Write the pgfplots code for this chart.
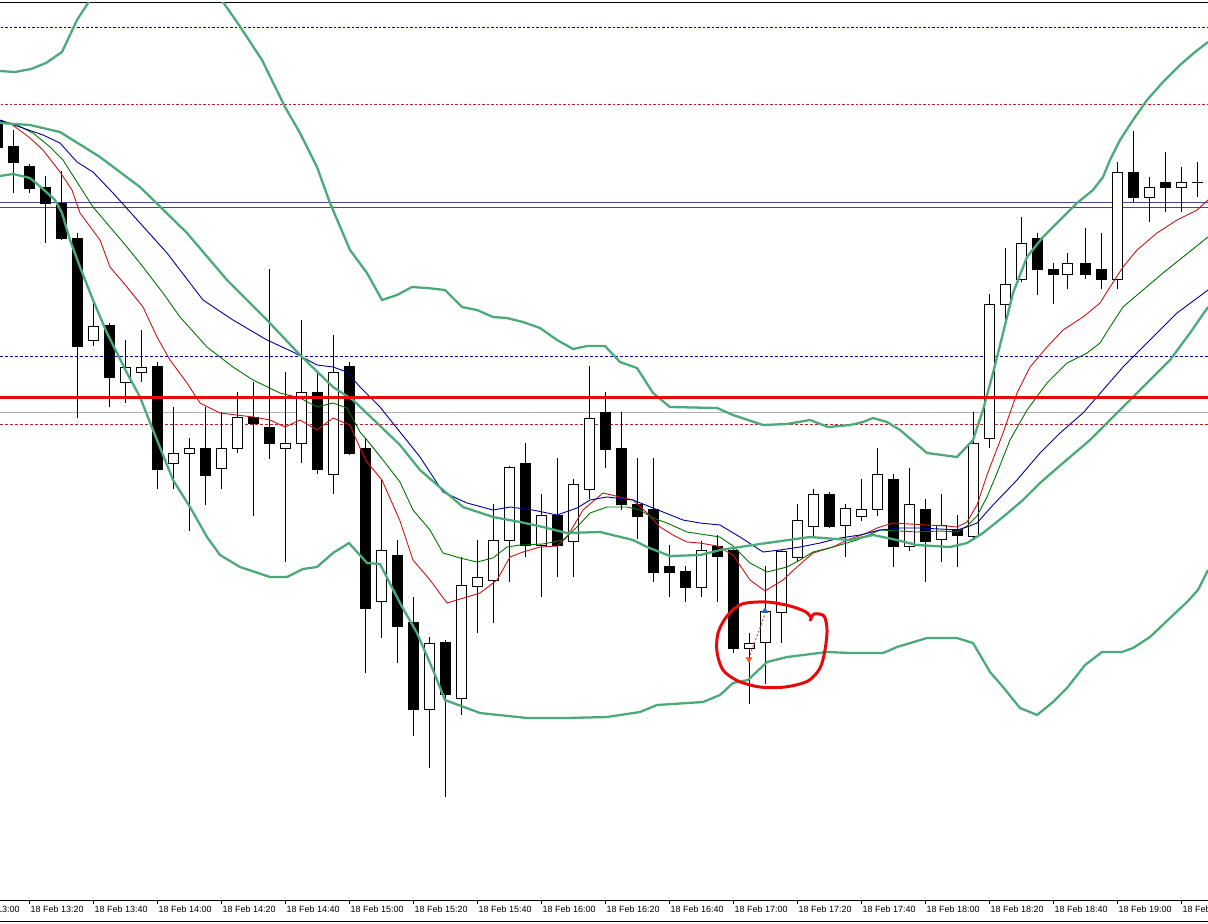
\documentclass[border=0pt]{standalone}
\usepackage{pgfplots}
\pgfplotsset{compat=1.18}
\usepackage{pgfplotstable}
\usepackage{fontspec}
\setmainfont{Liberation Sans}
\definecolor{bbg}{RGB}{76,170,122}
\definecolor{mared}{RGB}{200,20,20}
\definecolor{magreen}{RGB}{0,115,0}
\definecolor{mablue}{RGB}{0,0,150}
\definecolor{slate}{RGB}{70,70,130}
\definecolor{dblue}{RGB}{0,0,160}
\definecolor{dred}{RGB}{190,30,30}
\definecolor{hred}{RGB}{232,10,10}

% black candles: x, high, low, body top, body bottom (pixel rows)
\pgfplotstableread{
x h l t b
-2.7 118 150 120 147
13.3 130 193 146 162
29.3 164 193 166 188
45.3 176 243 187 203
61.3 171 240 203 238
77.3 233 418 238 346
109.3 323 407 325 377
157.3 362 489 366 469
205.3 407 505 448 475
253.3 382 516 417 423
269.3 269 459 427 443
317.3 373 474 392 469
349.3 362 455 366 453
365.3 438 673 448 608
397.3 540 663 556 627
413.3 597 736 622 709
445.3 640 797 643 695
525.3 443 557 463 545
557.3 458 577 515 545
605.3 392 468 412 449
621.3 412 510 448 504
637.3 458 539 504 516
653.3 458 582 509 572
669.3 545 597 566 572
685.3 566 602 571 587
717.3 535 602 546 556
733.3 548 653 550 648
829.3 492 528 494 526
893.3 474 567 479 546
925.3 499 582 509 541
957.3 515 567 530 536
1037.3 233 295 238 269
1053.3 263 304 269 274
1085.3 228 279 263 274
1101.3 233 289 269 279
1133.3 131 202 172 197
1165.3 152 212 182 187
1197.3 162 197 182 182
}\blackc

% white candles
\pgfplotstableread{
x h l t b
93.3 302 346 326 340
125.3 340 403 367 382
141.3 330 382 367 372
173.3 407 489 453 463
189.3 438 531 448 453
221.3 412 489 448 468
237.3 392 453 417 448
285.3 372 562 443 448
301.3 320 463 392 443
333.3 335 494 372 474
381.3 479 638 551 602
429.3 637 768 643 709
461.3 557 715 586 699
477.3 540 633 577 586
493.3 504 623 541 581
509.3 466 582 468 541
541.3 494 597 515 545
573.3 479 577 484 541
589.3 366 499 418 489
701.3 541 597 550 587
749.3 633 704 643 648
765.3 566 684 612 643
781.3 550 643 551 612
797.3 504 562 520 557
813.3 489 537 494 526
845.3 504 557 509 526
861.3 479 521 509 516
877.3 448 516 474 509
909.3 468 551 504 546
941.3 494 562 526 540
973.3 412 538 443 536
989.3 294 448 304 438
1005.3 248 326 284 304
1021.3 217 282 243 279
1067.3 253 289 263 274
1117.3 162 289 172 279
1149.3 177 222 187 197
1181.3 167 212 182 187
}\whitec

\begin{document}
\begin{tikzpicture}
\useasboundingbox (0,0) rectangle (1208pt,924pt);
\begin{axis}[
  at={(-40pt,24pt)}, anchor=south west,
  scale only axis, width=1288pt, height=898pt,
  xmin=-40, xmax=1248, ymin=2, ymax=900, y dir=reverse,
  separate axis lines,
  x axis line style={black, line width=1pt},
  y axis line style={draw=none},
  ytick=\empty,
  xtick pos=bottom,
  xtick align=outside,
  major tick length=4pt,
  xtick style={black, line width=0.8pt},
  xtick={-34.7,29.3,93.3,157.3,221.3,285.3,349.3,413.3,477.3,541.3,605.3,669.3,733.3,797.3,861.3,925.3,989.3,1053.3,1117.3,1181.3},
  xticklabels={18 Feb 13:00,18 Feb 13:20,18 Feb 13:40,18 Feb 14:00,18 Feb 14:20,18 Feb 14:40,18 Feb 15:00,18 Feb 15:20,18 Feb 15:40,18 Feb 16:00,18 Feb 16:20,18 Feb 16:40,18 Feb 17:00,18 Feb 17:20,18 Feb 17:40,18 Feb 18:00,18 Feb 18:20,18 Feb 18:40,18 Feb 19:00,18 Feb 19:20},
  xticklabel style={font=\fontsize{9}{10}\selectfont, anchor=north west, inner sep=0pt, xshift=1pt, yshift=-1.5pt},
  clip=true,
]
% horizontal levels
\addplot[dblue, line width=0.9pt, dash pattern=on 2.5pt off 2pt] coordinates {(-40,27) (1248,27)};
\addplot[dred, line width=0.9pt, dash pattern=on 2.5pt off 2pt] coordinates {(-40,104) (1248,104)};
\addplot[slate, line width=0.9pt] coordinates {(-40,202.5) (1248,202.5)};
\addplot[slate, line width=0.9pt] coordinates {(-40,207.5) (1248,207.5)};
\addplot[dblue, line width=0.9pt, dash pattern=on 3pt off 2pt] coordinates {(-40,356) (1248,356)};
\addplot[gray!60, line width=1pt] coordinates {(-40,412) (1248,412)};
\addplot[dred, line width=0.9pt, dash pattern=on 3pt off 2pt] coordinates {(-40,424.5) (1248,424.5)};

% wicks
\addplot[draw=none, mark=none, error bars/.cd, y dir=both, y explicit, error mark=none,
  error bar style={draw=black, line width=1pt}]
  table[x=x, y expr={(\thisrow{h}+\thisrow{l})/2}, y error expr={(\thisrow{l}-\thisrow{h})/2}] {\blackc};
\addplot[draw=none, mark=none, error bars/.cd, y dir=both, y explicit, error mark=none,
  error bar style={draw=black, line width=1pt}]
  table[x=x, y expr={(\thisrow{h}+\thisrow{l})/2}, y error expr={(\thisrow{l}-\thisrow{h})/2}] {\whitec};
% bodies
\addplot[draw=none, mark=none, error bars/.cd, y dir=both, y explicit, error mark=none,
  error bar style={draw=black, line width=11pt}]
  table[x=x, y expr={(\thisrow{t}+\thisrow{b})/2}, y error expr={(\thisrow{b}-\thisrow{t})/2+0.5}] {\blackc};
\addplot[draw=none, mark=none, error bars/.cd, y dir=both, y explicit, error mark=none,
  error bar style={draw=black, line width=11pt}]
  table[x=x, y expr={(\thisrow{t}+\thisrow{b})/2}, y error expr={(\thisrow{b}-\thisrow{t})/2+0.5}] {\whitec};
\addplot[draw=none, mark=none, error bars/.cd, y dir=both, y explicit, error mark=none,
  error bar style={draw=white, line width=9pt}]
  table[x=x, y expr={(\thisrow{t}+\thisrow{b})/2}, y error expr={(\thisrow{b}-\thisrow{t})/2-0.5}] {\whitec};

% moving averages
\addplot[mared, line width=0.9pt] coordinates {(0,121) (10,123) (30,138) (43,150) (60,172) (72,190) (80,213) (100,240) (110,267) (127,287) (143,307) (157,337) (170,360) (187,383) (200,403) (220,413) (253,417) (270,420) (285,427) (300,420) (317,430) (333,418) (350,425) (360,448) (367,462) (382,480) (400,521) (413,560) (430,580) (447,603) (467,597) (480,593) (497,580) (510,557) (523,552) (540,547) (557,546) (567,537) (583,510) (603,493) (620,497) (633,500) (647,513) (660,527) (673,535) (687,542) (700,543) (717,546) (733,555) (750,580) (765,591) (783,580) (797,567) (813,553) (833,547) (847,540) (867,533) (877,528) (893,523) (910,524) (927,525) (947,526) (957,527) (967,522) (977,505) (987,475) (1003,433) (1017,393) (1030,367) (1047,347) (1063,330) (1083,317) (1100,303) (1110,287) (1123,267) (1137,250) (1157,233) (1177,220) (1197,210) (1208,200)};
\addplot[magreen, line width=0.9pt] coordinates {(0,121) (17,125) (33,133) (50,147) (63,160) (77,182) (93,207) (110,227) (127,247) (143,267) (163,293) (180,317) (207,347) (233,367) (253,380) (280,393) (300,398) (317,407) (333,403) (347,408) (360,432) (367,440) (383,460) (400,482) (413,510) (430,530) (443,553) (460,558) (477,562) (493,558) (507,547) (520,545) (543,544) (563,540) (577,527) (590,513) (607,507) (627,507) (640,510) (653,518) (667,523) (687,532) (707,535) (720,537) (733,546) (750,563) (767,572) (787,567) (800,560) (813,552) (833,547) (857,540) (880,530) (900,531) (917,532) (940,531) (957,532) (967,526) (977,516) (987,497) (997,473) (1010,440) (1027,410) (1047,383) (1067,363) (1087,353) (1100,343) (1110,327) (1123,307) (1143,290) (1163,273) (1183,257) (1208,237)};
\addplot[mablue, line width=0.9pt] coordinates {(0,120) (20,127) (43,135) (60,143) (77,162) (93,172) (113,193) (140,223) (167,253) (203,300) (233,320) (267,340) (293,352) (317,365) (333,367) (347,372) (360,387) (380,407) (400,432) (420,457) (443,492) (467,503) (493,510) (510,507) (533,510) (557,515) (577,508) (590,500) (607,497) (633,500) (653,508) (683,520) (700,523) (720,525) (740,537) (763,552) (780,550) (800,547) (820,543) (840,538) (860,535) (880,530) (900,528) (920,528) (940,529) (957,530) (967,527) (977,523) (993,505) (1017,480) (1040,453) (1060,433) (1083,413) (1103,390) (1123,367) (1150,340) (1177,313) (1208,290)};

% Bollinger bands
\addplot[bbg, line width=2.3pt] coordinates {(0,71) (15,72) (31,69) (46,63) (62,52) (77,20) (90,0) (100,-20) (200,-40) (215,-15) (223,2) (239,25) (262,60) (285,107) (300,133) (317,167) (330,203) (350,250) (367,273) (382,300) (397,295) (412,287) (427,288) (445,290) (462,307) (477,310) (493,317) (507,318) (523,322) (540,328) (557,340) (573,349) (587,346) (605,346) (620,362) (637,368) (653,393) (670,407) (717,408) (733,415) (763,425) (787,424) (810,420) (828,427) (850,425) (863,422) (873,418) (887,422) (900,430) (927,453) (957,457) (973,440) (983,410) (993,373) (1003,333) (1013,293) (1027,257) (1043,237) (1060,220) (1077,203) (1093,190) (1103,177) (1110,160) (1120,140) (1133,120) (1147,100) (1163,82) (1180,65) (1195,52) (1208,42)};
\addplot[bbg, line width=2.3pt] coordinates {(0,123) (30,125) (60,132) (100,157) (140,187) (187,233) (227,280) (267,320) (300,355) (333,387) (353,400) (400,445) (420,470) (443,490) (463,507) (493,517) (520,522) (543,527) (567,533) (600,532) (633,540) (647,547) (670,556) (700,555) (720,550) (733,548) (767,543) (810,537) (850,540) (873,535) (897,540) (917,545) (950,547) (967,543) (983,533) (1003,517) (1023,500) (1040,483) (1063,463) (1090,440) (1110,420) (1130,400) (1150,380) (1170,360) (1190,333) (1208,307)};
\addplot[bbg, line width=2.3pt] coordinates {(0,176) (13,174) (30,178) (43,189) (55,200) (62,213) (70,240) (80,267) (93,300) (107,333) (127,373) (140,397) (153,430) (173,480) (190,507) (207,537) (220,555) (240,567) (270,577) (287,577) (303,569) (317,567) (333,553) (349,543) (367,563) (380,564) (400,603) (417,633) (433,670) (445,700) (480,713) (527,718) (567,718) (607,717) (640,712) (657,705) (703,702) (720,695) (733,683) (748,680) (767,662) (787,657) (827,652) (850,653) (883,653) (897,647) (927,638) (957,638) (973,643) (990,672) (1003,687) (1020,708) (1037,715) (1053,702) (1067,688) (1085,665) (1102,652) (1122,652) (1133,648) (1150,637) (1170,618) (1187,602) (1198,590) (1208,570)};

% thick red level
\addplot[hred, line width=3pt] coordinates {(-40,397) (1248,397)};

% trade markers
\addplot[dred!80, line width=1pt, dash pattern=on 2pt off 2pt] coordinates {(750,655) (765,614)};
\addplot[only marks, mark=triangle*, mark size=3.5pt, color={rgb,255:red,40;green,100;blue,200}] coordinates {(765,611)};
\addplot[only marks, mark=triangle*, mark size=3.5pt, mark options={rotate=180}, color={rgb,255:red,235;green,90;blue,40}] coordinates {(749,659)};

% hand-drawn circle
\addplot[hred, line width=3pt, smooth, tension=0.5] coordinates {(810,621) (814,614) (824,616) (827,630) (825,650) (820,668) (808,681) (785,687) (760,687) (738,681) (723,670) (717,652) (718,633) (727,616) (742,604) (767,602) (790,606) (806,612) (812,619)};
\end{axis}
\draw[black, line width=1pt] (0,2pt) -- (1208pt,2pt);
\end{tikzpicture}
\end{document}
